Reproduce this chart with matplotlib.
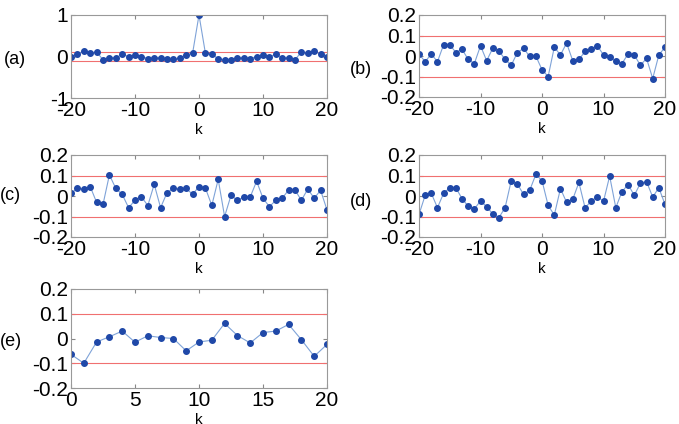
import matplotlib.pyplot as plt

# data
k_full = list(range(-20, 21))
k_half = list(range(0, 21))

acf_a = [0.0, 0.05, 0.14, 0.08, 0.11, -0.08, -0.03, -0.03, 0.05, 0.0, 0.03,
         0.0, -0.05, -0.03, -0.03, -0.07, -0.07, -0.04, 0.04, 0.08, 1.0,
         0.08, 0.05, -0.05, -0.08, -0.08, -0.03, -0.03, -0.05, 0.0, 0.03,
         0.0, 0.05, -0.03, -0.03, -0.08, 0.11, 0.08, 0.14, 0.05, 0.0]
acf_b = [0.01, -0.028, 0.01, -0.028, 0.055, 0.055, 0.017, 0.033, -0.017, -0.037,
         0.05, -0.023, 0.038, 0.025, -0.017, -0.045, 0.017, 0.037, -0.002, 0.0,
         -0.067, -0.1, 0.043, 0.005, 0.063, -0.023, -0.017, 0.022, 0.033, 0.05,
         0.005, -0.007, -0.023, -0.037, 0.01, 0.005, -0.045, -0.012, -0.11, 0.005, 0.043]
acf_c = [0.013, 0.037, 0.033, 0.046, -0.031, -0.041, 0.103, 0.037, 0.008, -0.057,
         -0.021, -0.003, -0.047, 0.057, -0.057, 0.016, 0.037, 0.033, 0.037, 0.008,
         0.046, 0.039, -0.046, 0.081, -0.1, 0.003, -0.021, -0.005, -0.005, 0.072,
         -0.011, -0.052, -0.021, -0.011, 0.029, 0.029, -0.021, 0.034, -0.011, 0.028, -0.068]
acf_d = [-0.09, 0.003, 0.013, -0.057, 0.013, 0.04, 0.04, -0.013, -0.05, -0.063,
         -0.024, -0.052, -0.088, -0.105, -0.057, 0.075, 0.058, 0.008, 0.028, 0.105,
         0.075, -0.046, -0.093, 0.036, -0.031, -0.016, 0.066, -0.057, -0.026, -0.003,
         -0.026, 0.097, -0.057, 0.021, 0.056, 0.003, 0.062, 0.07, -0.005, 0.04, -0.041]
acf_e = [-0.064, -0.1, -0.014, 0.007, 0.03, -0.015, 0.011, 0.004, 0.0, -0.05,
         -0.014, -0.007, 0.061, 0.012, -0.018, 0.024, 0.03, 0.057, -0.005, -0.072, -0.024]

bound = 0.1

W, H = 679, 424
plt.rcParams['font.family'] = ['Liberation Sans', 'DejaVu Sans']
plt.rcParams['axes.unicode_minus'] = False
fig = plt.figure(figsize=(W / 100, H / 100), dpi=100)


def panel(left, right, top, bottom, k, vals, ylim, yticks, xticks, ylabs):
    ax = fig.add_axes([left / W, 1 - bottom / H, (right - left) / W, (bottom - top) / H])
    ax.axhline(bound, color='#f07070', lw=0.8)
    ax.axhline(-bound, color='#f07070', lw=0.8)
    ax.plot(k, vals, color='#7fa3d8', lw=0.8, marker='o', ms=4,
            mfc='#1f48a8', mec='#1f48a8')
    ax.set_xlim(k[0], k[-1])
    ax.set_ylim(*ylim)
    ax.set_yticks(yticks)
    ax.set_yticklabels(ylabs)
    ax.set_xticks(xticks)
    ax.tick_params(direction='in', length=3, labelsize=15, pad=2,
                   top=True, right=True, color='#888888')
    for s in ax.spines.values():
        s.set_color('#999999')
        s.set_linewidth(0.8)
    ax.set_xlabel('k', fontsize=11, labelpad=2)
    return ax


small = [-0.2, -0.1, 0, 0.1, 0.2]
small_lab = ['-0.2', '-0.1', '0', '0.1', '0.2']

panel(71, 327, 15, 98, k_full, acf_a, (-1, 1), [-1, 0, 1], [-20, -10, 0, 10, 20],
      ['-1', '0', '1'])
panel(419, 665, 15, 97, k_full, acf_b, (-0.2, 0.2), small, [-20, -10, 0, 10, 20], small_lab)
panel(71, 327, 155, 237, k_full, acf_c, (-0.2, 0.2), small, [-20, -10, 0, 10, 20], small_lab)
panel(419, 665, 155, 237, k_full, acf_d, (-0.2, 0.2), small, [-20, -10, 0, 10, 20], small_lab)
panel(71, 327, 289, 388, k_half, acf_e, (-0.2, 0.2), small, [0, 5, 10, 15, 20], small_lab)

for lab, x, y in [('(a)', 15, 60), ('(b)', 361, 70), ('(c)', 10, 195),
                  ('(d)', 361, 202), ('(e)', 11, 342)]:
    fig.text(x / W, 1 - y / H, lab, fontsize=13, ha='center', va='center')

fig.savefig('out.png', dpi=100)
